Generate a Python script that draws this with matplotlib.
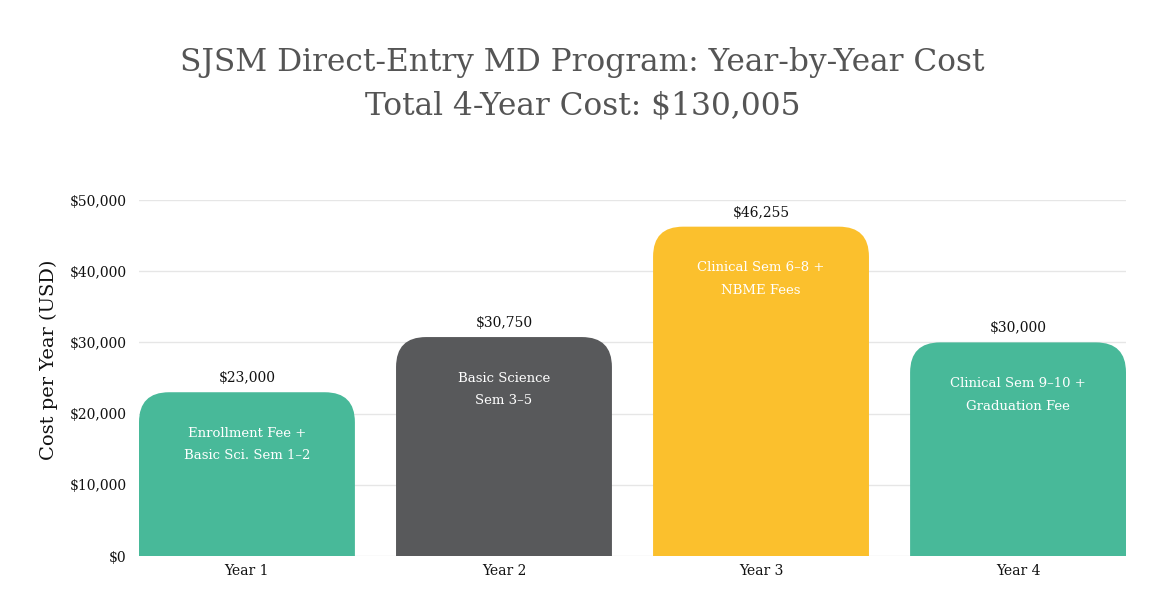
import matplotlib
matplotlib.use("Agg")
import matplotlib.pyplot as plt
from matplotlib.patches import FancyBboxPatch
from matplotlib.ticker import FuncFormatter

# data
years = ["Year 1", "Year 2", "Year 3", "Year 4"]
costs = [23000, 30750, 46255, 30000]
inner_labels = [
    "Enrollment Fee +\nBasic Sci. Sem 1\u20132",
    "Basic Science\nSem 3\u20135",
    "Clinical Sem 6\u20138 +\nNBME Fees",
    "Clinical Sem 9\u201310 +\nGraduation Fee",
]
bar_colors = ["#48B999", "#58595B", "#FBC02D", "#48B999"]
title_lines = ["SJSM Direct-Entry MD Program: Year-by-Year Cost",
               "Total 4-Year Cost: $130,005"]

plt.rcParams['font.family'] = ['DejaVu Serif']

fig = plt.figure(figsize=(11.72, 6.08), dpi=100)
fig.patch.set_facecolor('white')
ax = fig.add_axes([139 / 1172, 1 - 556 / 608, (1126 - 139) / 1172, (556 - 200) / 608])

bar_w = 0.84
x = list(range(len(years)))
bars = ax.bar(x, costs, width=bar_w, color='none', edgecolor='none')

ax.set_xlim(-bar_w / 2, len(years) - 1 + bar_w / 2)
ax.set_ylim(0, 50000)

# rounded top corners: radius in pixels converted to data units
fig.canvas.draw()
px_per_x = ax.transData.transform((1, 0))[0] - ax.transData.transform((0, 0))[0]
px_per_y = ax.transData.transform((0, 1))[1] - ax.transData.transform((0, 0))[1]
rad_px = 30
rx = rad_px / px_per_x
ry = rad_px / px_per_y

for rect, col in zip(bars, bar_colors):
    bx, bw, bh = rect.get_x(), rect.get_width(), rect.get_height()
    patch = FancyBboxPatch((bx, -ry), bw, bh + ry,
                           boxstyle=f"round,pad=0,rounding_size={rx}",
                           mutation_aspect=ry / rx,
                           facecolor=col, edgecolor='none', zorder=2)
    patch.set_clip_path(ax.patch)
    ax.add_patch(patch)

for xi, val, lab in zip(x, costs, inner_labels):
    ax.annotate(f"${val:,.0f}", (xi, val), xytext=(0, 5), textcoords='offset points',
                ha='center', va='bottom', fontsize=10, color='#111111', zorder=3)
    ax.annotate(lab, (xi, val), xytext=(0, -25), textcoords='offset points',
                ha='center', va='top', fontsize=9.5, color='white',
                linespacing=1.95, zorder=3)

ax.yaxis.set_major_formatter(FuncFormatter(lambda v, p: f"${v:,.0f}"))
ax.set_yticks(range(0, 50001, 10000))
ax.set_xticks(x)
ax.set_xticklabels(years)
ax.tick_params(axis='both', length=0, labelsize=10, colors='#111111')
ax.tick_params(axis='x', pad=6)
ax.tick_params(axis='y', pad=9)
ax.grid(axis='y', color='#e6e6e6', linewidth=1, zorder=0)
ax.set_axisbelow(True)
for s in ax.spines.values():
    s.set_visible(False)

ax.set_ylabel("Cost per Year (USD)", fontsize=14, color='#111111')
ax.yaxis.set_label_coords(-0.082, 0.55)

fig.text(0.497, 1 - 62 / 608, title_lines[0], ha='center', va='center',
         fontsize=22.5, color='#555555')
fig.text(0.497, 1 - 106 / 608, title_lines[1], ha='center', va='center',
         fontsize=22.5, color='#555555')

fig.savefig("out.png", dpi=100, facecolor='white')
